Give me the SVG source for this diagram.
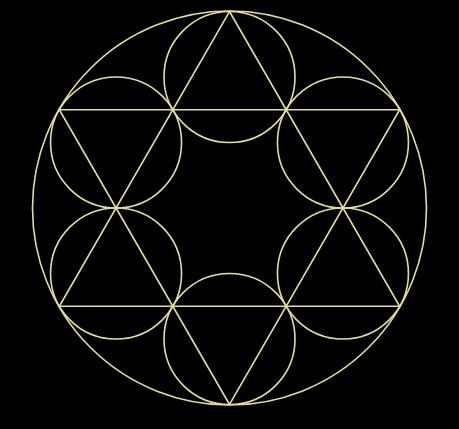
<svg xmlns="http://www.w3.org/2000/svg" width="459" height="429" viewBox="0 0 459 429">
<style>
.s{fill:none;stroke:#e4df96;stroke-width:1.6}
</style>
<rect width="459" height="429" fill="#000"/>
<g id="outer"><circle class="s" cx="229.5" cy="208" r="197"/></g>
<g id="c-top"><circle class="s" cx="229.5" cy="77" r="65.5"/></g>
<g id="c-bottom"><circle class="s" cx="229.5" cy="339" r="65.5"/></g>
<g id="c-ur"><circle class="s" cx="342.95" cy="142.5" r="65.5"/></g>
<g id="c-lr"><circle class="s" cx="342.95" cy="273.5" r="65.5"/></g>
<g id="c-ul"><circle class="s" cx="116.05" cy="142.5" r="65.5"/></g>
<g id="c-ll"><circle class="s" cx="116.05" cy="273.5" r="65.5"/></g>
<g id="connectors">
<polygon class="s" points="229.5,11.5 399.67,306.25 59.33,306.25"/>
<polygon class="s" points="229.5,404.5 59.33,109.75 399.67,109.75"/>
</g>
</svg>
